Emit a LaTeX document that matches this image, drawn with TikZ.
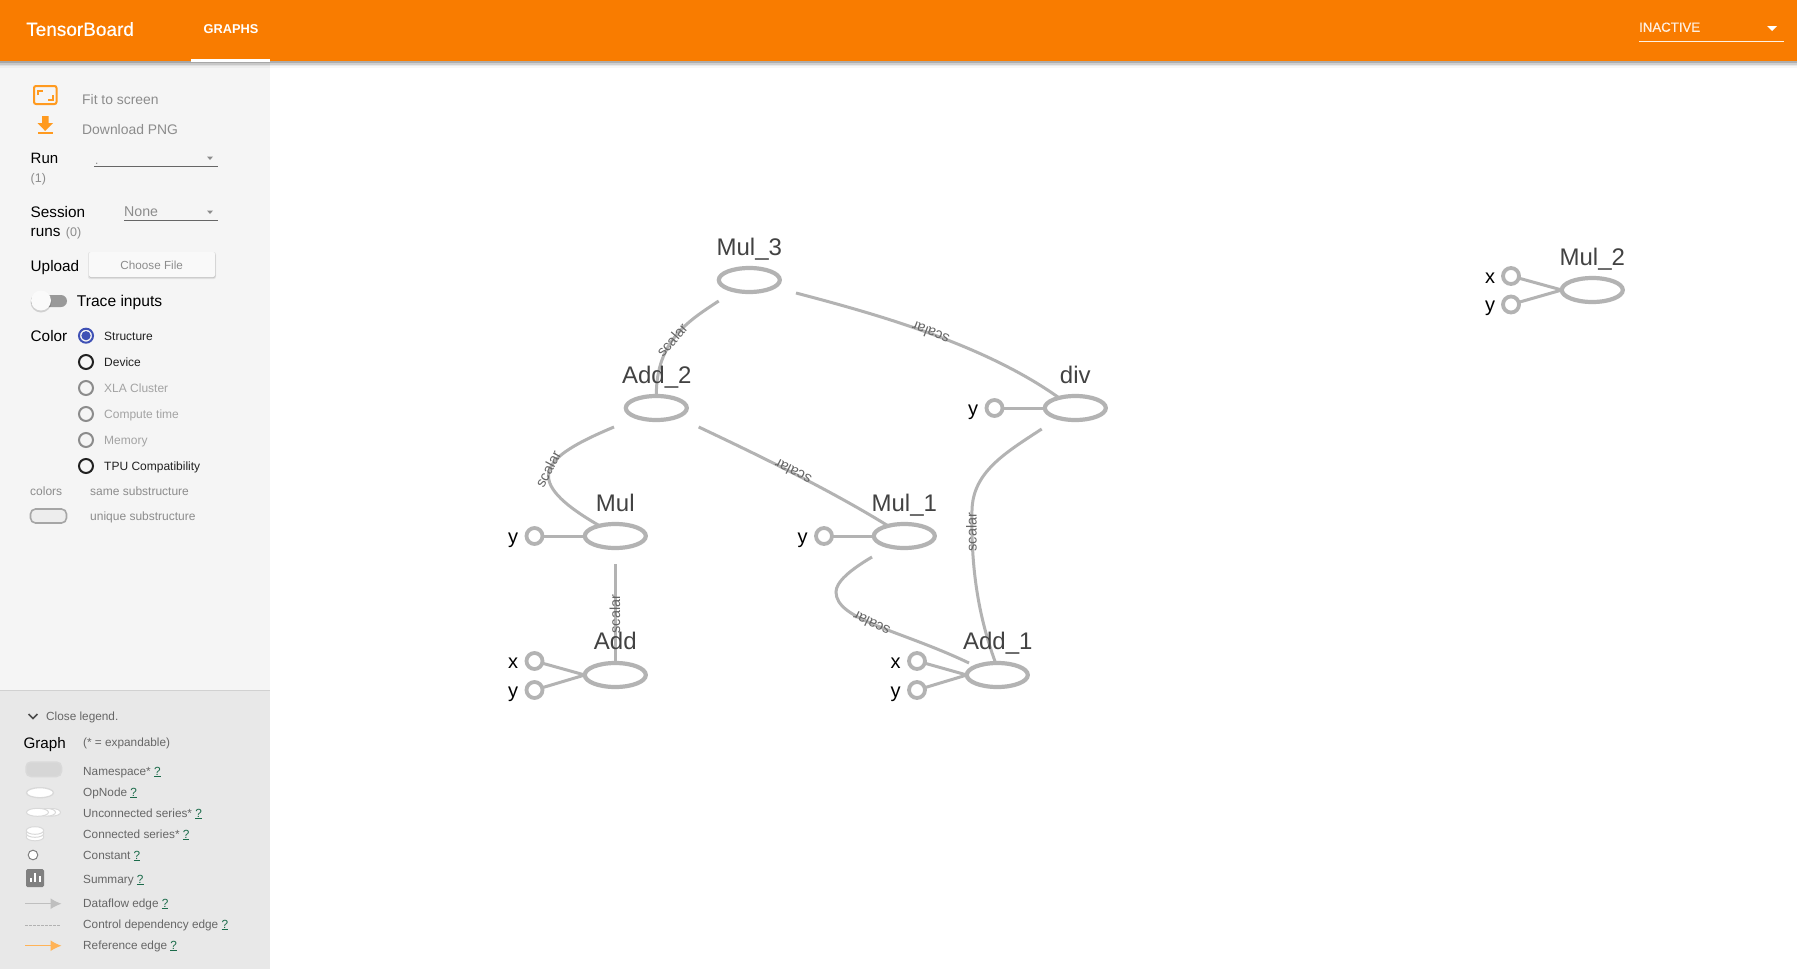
\documentclass[tikz,border=0pt]{standalone}
\usepackage{fontspec}
\setmainfont{Liberation Sans}
\newfontfamily\mediumfont[FakeBold=0.5]{Liberation Sans}
\usetikzlibrary{shapes.geometric}
\usetikzlibrary{arrows.meta}

\definecolor{barorange}{HTML}{F97C00}
\definecolor{iconorange}{HTML}{FF9A1F}
\definecolor{sidegray}{HTML}{F5F5F5}
\definecolor{legendgray}{HTML}{E8E8E8}
\definecolor{edgegray}{HTML}{B3B3B3}
\definecolor{titlegray}{HTML}{424242}
\definecolor{dimgray}{HTML}{8C8C8C}
\definecolor{darktext}{HTML}{212121}
\definecolor{legendtext}{HTML}{666666}
\definecolor{helpgreen}{HTML}{1B6B4A}
\definecolor{radioblue}{HTML}{3F51B5}

\tikzset{
  opnode/.style={ellipse,draw=edgegray,fill=white,line width=4.2pt,minimum width=61pt,minimum height=24pt,inner sep=0pt,outer sep=0pt},
  constnode/.style={circle,draw=edgegray,fill=white,line width=3.8pt,minimum size=16pt,inner sep=0pt,outer sep=0pt},
  oplabel/.style={anchor=base,inner sep=0pt,text=titlegray,font=\fontsize{24}{24}\selectfont},
  inlabel/.style={anchor=base,inner sep=0pt,text=black,font=\fontsize{20}{20}\selectfont},
  edgeline/.style={draw=edgegray,line width=3pt},
  edgelabel/.style={inner sep=0pt,text=legendtext,font=\fontsize{14.5}{14.5}\selectfont},
  uitext/.style={anchor=base west,inner sep=0pt,yshift=-#1*0.36pt,font=\fontsize{#1}{#1}\selectfont},
  radio/.style={circle,draw=#1,line width=2pt,minimum size=14pt,inner sep=0pt},
  legendrow/.style={uitext=11.8,text=legendtext},
  sideline/.style={draw=legendtext,line width=1pt}
}
\newcommand{\helpmark}{\textcolor{helpgreen}{\underline{?}}}

\begin{document}
\begin{tikzpicture}[x=1pt,y=-1pt]
  \useasboundingbox (0,0) rectangle (1797,969);

  % panels
  \fill[white] (0,0) rectangle (1797,969);
  \fill[sidegray] (0,61) rectangle (270,690);
  \fill[legendgray] (0,690) rectangle (270,969);
  \draw[draw=black!18,line width=1pt] (0,690) -- (270,690);
  \foreach \s/\o in {2/.16,3.5/.10,5/.06,6.5/.03} {
    \fill[black,opacity=\o] (0,61) rectangle (1797,61+\s);
  }
  \fill[barorange] (0,0) rectangle (1797,61);
  \fill[white] (191,59) rectangle (270,61.5);

  % top bar
  \node[uitext=19,text=white,font=\fontsize{19}{19}\mediumfont] (brand) at (26,29) {TensorBoard};
  \node[uitext=12.8,text=white,font=\fontsize{12.8}{12.8}\selectfont\bfseries] (tabgraphs) at (203.5,29) {GRAPHS};
  \node[uitext=13.2,text=white!88!barorange,font=\fontsize{13.2}{13.2}\mediumfont] (inactive) at (1639,27) {INACTIVE};
  \draw[draw=white!90!barorange,line width=1pt] (1639,41.3) -- (1784,41.3);
  \fill[white] (1767,26) -- (1777,26) -- (1772,31) -- cycle;

  % toolbar
  \draw[draw=iconorange,line width=2pt,rounded corners=2pt] (34,86) rectangle (56.5,104);
  \draw[draw=iconorange,line width=2pt] (37.5,95) -- (37.5,90.5) -- (42.5,90.5);
  \draw[draw=iconorange,line width=2pt] (53,95) -- (53,99.5) -- (47.5,99.5);
  \fill[iconorange] (42,116) -- (48.5,116) -- (48.5,123) -- (53,123) -- (45.2,131) -- (37.5,123) -- (42,123) -- cycle;
  \fill[iconorange] (37.5,132) rectangle (53,134);
  \node[uitext=13.9,text=dimgray] (fit) at (82,99) {Fit to screen};
  \node[uitext=13.9,text=dimgray] (png) at (82,129) {Download PNG};

  \node[uitext=15,text=black] (run) at (30.5,158) {Run};
  \node[uitext=12.5,text=dimgray] (runcount) at (30.5,178) {(1)};
  \node[uitext=12,text=dimgray] (rundot) at (95,160) {.};
  \draw[sideline] (94,166) -- (218,166);
  \fill[dimgray] (207,156.5) -- (213,156.5) -- (210,160) -- cycle;

  \node[uitext=15.3,text=black] (session) at (30.5,212) {Session};
  \node[uitext=15.3,text=black] (runs) at (30.5,231) {runs};
  \node[uitext=12.5,text=dimgray] (sessioncount) at (65.7,232) {(0)};
  \node[uitext=14.2,text=dimgray] (none) at (124,211) {None};
  \draw[sideline] (124,220.5) -- (218,220.5);
  \fill[dimgray] (207,210.5) -- (213,210.5) -- (210,214) -- cycle;

  \node[uitext=15.3,text=black] (upload) at (30.5,265.5) {Upload};
  \fill[black,opacity=.07,rounded corners=2pt] (88,252) rectangle (216,279);
  \fill[black,opacity=.12,rounded corners=2pt] (89,253) rectangle (215.5,278);
  \fill[sidegray!60!white,rounded corners=2pt] (89,252) rectangle (215,277);
  \node[uitext=11.7,text=dimgray,anchor=base] (choose) at (151.7,265) {Choose File};

  \fill[black!40,rounded corners=6pt] (31,295) rectangle (67,307);
  \fill[black,opacity=.15] (41,302) circle (10.5);
  \fill[white!98!black] (41,300.5) circle (10);
  \node[uitext=15.6,text=black] (trace) at (76.7,300.7) {Trace inputs};

  % colour radios
  \node[uitext=15.3,text=black] (color) at (30.5,335.7) {Color};
  \node[radio=radioblue] (radstruct) at (86,335.7) {};
  \fill[radioblue] (radstruct.center) circle (4.6);
  \node[radio=darktext] (raddevice) at (86,362) {};
  \node[radio=dimgray] (radxla) at (86,388) {};
  \node[radio=dimgray] (radtime) at (86,414) {};
  \node[radio=dimgray] (radmem) at (86,440) {};
  \node[radio=darktext] (radtpu) at (86,466) {};
  \node[uitext=12,text=darktext] (txtstruct) at (104,335.7) {Structure};
  \node[uitext=12,text=darktext] (txtdevice) at (104,362) {Device};
  \node[uitext=12,text=dimgray!80!white] (txtxla) at (104,388) {XLA Cluster};
  \node[uitext=12,text=dimgray!80!white] (txttime) at (104,414) {Compute time};
  \node[uitext=12,text=dimgray!80!white] (txtmem) at (104,440) {Memory};
  \node[uitext=12,text=darktext] (txttpu) at (104,466) {TPU Compatibility};
  \node[uitext=12,text=dimgray] (colors) at (30,491) {colors};
  \node[uitext=12,text=dimgray] (same) at (90,491) {same substructure};
  \node[uitext=12,text=dimgray] (unique) at (90,516) {unique substructure};
  \draw[draw=black!35,fill=black!7,line width=1.6pt,rounded corners=5pt] (30.5,509) rectangle (66.5,523);

  % legend
  \draw[draw=darktext!80,line width=1.5pt] (28.5,714) -- (33,718.5) -- (37.5,714);
  \node[legendrow] (close) at (46,716) {Close legend.};
  \node[uitext=15.2,text=black] (graph) at (23.3,743.5) {Graph};
  \node[legendrow] (expand) at (83,742.7) {(* = expandable)};
  \node[legendrow] (rowns) at (83,771) {Namespace* \helpmark};
  \node[legendrow] (rowop) at (83,792) {OpNode \helpmark};
  \node[legendrow] (rowun) at (83,813) {Unconnected series* \helpmark};
  \node[legendrow] (rowcon) at (83,834) {Connected series* \helpmark};
  \node[legendrow] (rowconst) at (83,855) {Constant \helpmark};
  \node[legendrow] (rowsum) at (83,879) {Summary \helpmark};
  \node[legendrow] (rowflow) at (83,903) {Dataflow edge \helpmark};
  \node[legendrow] (rowctrl) at (83,924) {Control dependency edge \helpmark};
  \node[legendrow] (rowref) at (83,945) {Reference edge \helpmark};

  \draw[draw=black!15,fill=black!16,line width=1.5pt,rounded corners=5pt] (26,762) rectangle (61.5,776.5);
  \draw[draw=black!15,fill=white,line width=1.3pt] (40,792.7) ellipse (13.5 and 5);
  \draw[draw=black!15,fill=white,line width=1pt] (52,812.3) ellipse (8.5 and 3.8);
  \draw[draw=black!15,fill=white,line width=1pt] (47,812.3) ellipse (8.5 and 3.8);
  \draw[draw=black!15,fill=white,line width=1pt] (37.5,812.3) ellipse (11 and 4);
  \draw[draw=black!15,fill=white,line width=1pt] (35,837) ellipse (8.7 and 3.8);
  \draw[draw=black!15,fill=white,line width=1pt] (35,833.5) ellipse (8.7 and 3.8);
  \draw[draw=black!15,fill=white,line width=1pt] (35,830.5) ellipse (8.7 and 3.8);
  \draw[draw=black!50,fill=white,line width=1pt] (33,855) circle (4.8);
  \fill[black!50,rounded corners=1.5pt] (26,869) rectangle (44,887);
  \fill[white] (29.5,878) rectangle (31.5,882);
  \fill[white] (34,873) rectangle (36,882);
  \fill[white] (38.5,876) rectangle (40.5,882);

  \coordinate (flowa) at (25,903.7);
  \coordinate (flowb) at (61.5,903.7);
  \coordinate (ctrla) at (25,925);
  \coordinate (ctrlb) at (61,925);
  \coordinate (refa) at (25,945.7);
  \coordinate (refb) at (61.5,945.7);
  \draw[draw=black!25,line width=1.3pt,-{Latex[length=11pt,width=11pt]}] (flowa) -- (flowb);
  \draw[draw=black!30,line width=1pt,dash pattern=on 2.5pt off 1.5pt] (ctrla) -- (ctrlb);
  \draw[draw=iconorange!75,line width=1.3pt,-{Latex[length=11pt,width=11pt]}] (refa) -- (refb);

  % op nodes
  \node[opnode] (mul3) at (749.3,280) {};
  \node[opnode] (add2) at (656.3,408) {};
  \node[opnode] (div) at (1075.3,408) {};
  \node[opnode] (mul) at (615.3,536) {};
  \node[opnode] (mul1) at (904.3,536) {};
  \node[opnode] (add) at (615.3,675) {};
  \node[opnode] (add1) at (997.3,675) {};
  \node[opnode] (mul2) at (1592.3,290) {};

  % constants
  \node[constnode] (divy) at (994.5,408) {};
  \node[constnode] (muly) at (534.5,536) {};
  \node[constnode] (mul1y) at (824,536) {};
  \node[constnode] (addx) at (534.5,661) {};
  \node[constnode] (addy) at (534.5,690) {};
  \node[constnode] (add1x) at (917,661) {};
  \node[constnode] (add1y) at (917,690) {};
  \node[constnode] (mul2x) at (1511,276) {};
  \node[constnode] (mul2y) at (1511,304.5) {};

  % free ends of the edges
  \coordinate (mul3a) at (718.7,301);
  \coordinate (mul3b) at (796,293);
  \coordinate (add2a) at (614,427);
  \coordinate (add2b) at (698.7,427);
  \coordinate (divout) at (1041.7,429);
  \coordinate (mulout) at (615.3,564);
  \coordinate (mul1out) at (872,557);
  \coordinate (add1in) at (969,663);

  \draw[edgeline] (mul3a) .. controls (690,320) and (656,340) .. (add2.north);
  \draw[edgeline] (mul3b) .. controls (880,315) and (985,345) .. (div.148);
  \draw[edgeline] (add2a) .. controls (540,458) and (520,480) .. (mul.147);
  \draw[edgeline] (add2b) .. controls (760,456) and (830,490) .. (mul1.148);
  \draw[edgeline] (divout) .. controls (1005,453) and (973,472) .. (972,510) .. controls (971,560) and (976,610) .. (add1.98);
  \draw[edgeline] (mul1out) .. controls (850,570) and (836,582) .. (836,592) .. controls (836,620) and (900,630) .. (add1in);
  \draw[edgeline] (mulout) -- (add.north);

  \draw[edgeline] (divy) -- (div);
  \draw[edgeline] (muly) -- (mul);
  \draw[edgeline] (mul1y) -- (mul1);
  \draw[edgeline] (addx) -- (add.west);
  \draw[edgeline] (addy) -- (add.west);
  \draw[edgeline] (add1x) -- (add1.west);
  \draw[edgeline] (add1y) -- (add1.west);
  \draw[edgeline] (mul2x) -- (mul2.west);
  \draw[edgeline] (mul2y) -- (mul2.west);

  % edge labels
  \node[edgelabel,rotate=49] (lab1) at (672,340) {scalar};
  \node[edgelabel,rotate=159] (lab2) at (930.5,333) {scalar};
  \node[edgelabel,rotate=62] (lab3) at (548,469) {scalar};
  \node[edgelabel,rotate=153] (lab4) at (793,472) {scalar};
  \node[edgelabel,rotate=90] (lab5) at (971.5,532) {scalar};
  \node[edgelabel,rotate=154] (lab6) at (871.5,624) {scalar};
  \node[edgelabel,rotate=90] (lab7) at (615,614) {scalar};

  % op names
  \node[oplabel] (mul3t) at (749.3,255.5) {Mul\_3};
  \node[oplabel] (add2t) at (656.8,383.5) {Add\_2};
  \node[oplabel] (divt) at (1075.3,383.5) {div};
  \node[oplabel] (mult) at (615.3,511.5) {Mul};
  \node[oplabel] (mul1t) at (904.3,511.5) {Mul\_1};
  \node[oplabel] (addt) at (615.3,649.5) {Add};
  \node[oplabel] (add1t) at (997.8,649.5) {Add\_1};
  \node[oplabel] (mul2t) at (1592.3,265.5) {Mul\_2};

  % input names
  \node[inlabel] (divyt) at (973,415) {y};
  \node[inlabel] (mulyt) at (513,543) {y};
  \node[inlabel] (mul1yt) at (802.7,543) {y};
  \node[inlabel] (addxt) at (513,668) {x};
  \node[inlabel] (addyt) at (513,697) {y};
  \node[inlabel] (add1xt) at (895.5,668) {x};
  \node[inlabel] (add1yt) at (895.5,697) {y};
  \node[inlabel] (mul2xt) at (1490,283) {x};
  \node[inlabel] (mul2yt) at (1490,311.5) {y};
\end{tikzpicture}
\end{document}
